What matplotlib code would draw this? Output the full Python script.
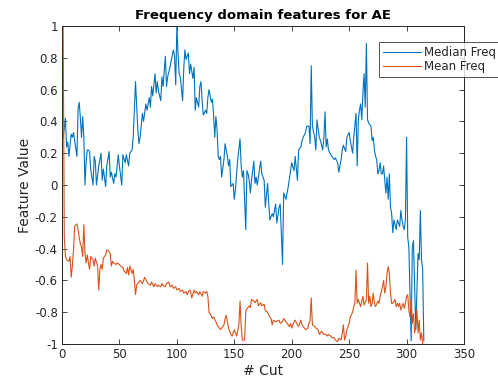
import matplotlib
matplotlib.use("Agg")
import matplotlib.pyplot as plt

title = "Frequency domain features for AE"
xlabel = "# Cut"
ylabel = "Feature Value"
series_names = ["Median Freq", "Mean Freq"]
x_ticks = [0, 50, 100, 150, 200, 250, 300, 350]
y_ticks = [-1, -0.8, -0.6, -0.4, -0.2, 0, 0.2, 0.4, 0.6, 0.8, 1]
y_tick_labels = ["-1", "-0.8", "-0.6", "-0.4", "-0.2", "0", "0.2", "0.4", "0.6", "0.8", "1"]

median_cut = [1, 3, 4, 5, 6, 8, 9, 10, 11, 13, 14, 15, 16, 17, 18, 19, 20, 21, 22, 23,
              24, 25, 27, 28, 29, 30, 32, 34, 35, 36, 38, 39, 41, 42, 43, 45, 46, 47, 49, 50,
              52, 53, 55, 56, 58, 59, 61, 62, 64, 66, 67, 68, 70, 71, 73, 74, 76, 77, 78, 79,
              81, 82, 83, 84, 86, 87, 88, 90, 91, 92, 94, 95, 97, 98, 99, 100, 101, 102, 103, 105,
              106, 107, 108, 110, 111, 112, 114, 115, 116, 117, 119, 120, 121, 122, 123, 125, 126, 127, 128, 130,
              131, 132, 133, 134, 135, 136, 137, 138, 139, 141, 142, 144, 145, 146, 147, 149, 150, 151, 152, 153,
              155, 156, 157, 158, 160, 161, 162, 163, 164, 165, 167, 168, 169, 170, 171, 173, 174, 176, 177, 179,
              180, 181, 183, 184, 186, 187, 189, 190, 192, 193, 195, 196, 197, 199, 200, 202, 203, 205, 206, 208,
              209, 210, 212, 213, 215, 216, 217, 218, 220, 221, 222, 224, 225, 227, 228, 229, 230, 231, 232, 234,
              235, 237, 238, 240, 241, 243, 244, 245, 247, 248, 250, 251, 253, 254, 256, 257, 258, 259, 260, 261,
              262, 263, 264, 265, 266, 267, 269, 270, 271, 272, 273, 274, 275, 276, 277, 278, 279, 280, 281, 282,
              283, 284, 285, 286, 287, 288, 289, 291, 292, 294, 295, 296, 297, 298, 299, 300, 301, 302, 304, 305,
              306, 307, 308, 310, 311, 312, 313, 314, 315]
median_val = [0.30, 0.42, 0.24, 0.27, 0.18, 0.32, 0.30, 0.33, 0.28, 0.18, 0.48, 0.52, 0.42, 0.30, 0.43, 0.30, 0.0, 0.15, 0.22, 0.22,
              0.21, 0.10, 0.0, 0.18, 0.15, 0.0, 0.12, 0.20, 0.03, 0.10, -0.01, 0.12, 0.21, 0.05, 0.08, 0.01, 0.07, 0.05, 0.19, 0.12,
              0.0, 0.19, 0.14, 0.19, 0.12, 0.20, 0.22, 0.30, 0.65, 0.35, 0.26, 0.30, 0.45, 0.40, 0.51, 0.47, 0.55, 0.49, 0.62, 0.56,
              0.70, 0.58, 0.65, 0.59, 0.53, 0.68, 0.62, 0.81, 0.62, 0.68, 0.74, 0.78, 0.85, 0.81, 0.63, 1.0, 0.83, 0.70, 0.68, 0.53,
              0.73, 0.85, 0.79, 0.83, 0.70, 0.76, 0.67, 0.74, 0.47, 0.55, 0.49, 0.62, 0.65, 0.53, 0.44, 0.47, 0.45, 0.55, 0.60, 0.52,
              0.54, 0.44, 0.30, 0.43, 0.35, 0.18, 0.16, 0.18, 0.05, 0.16, 0.26, 0.18, 0.12, 0.16, -0.01, 0.01, -0.09, -0.03, 0.07, 0.16,
              0.29, 0.12, 0.05, 0.09, -0.28, 0.09, 0.07, 0.03, -0.05, 0.03, 0.15, 0.01, 0.05, 0.0, 0.05, 0.15, 0.07, 0.03, -0.14, 0.01,
              -0.12, -0.22, -0.18, -0.20, -0.12, -0.24, -0.14, -0.12, -0.50, -0.05, -0.09, -0.05, -0.01, 0.09, 0.14, 0.09, 0.18, 0.03, 0.22, 0.24,
              0.28, 0.30, 0.33, 0.37, 0.37, 0.26, 0.75, 0.37, 0.30, 0.22, 0.41, 0.30, 0.28, 0.22, 0.30, 0.46, 0.24, 0.29, 0.22, 0.19,
              0.18, 0.16, 0.17, 0.14, 0.08, 0.16, 0.22, 0.25, 0.21, 0.30, 0.33, 0.28, 0.20, 0.30, 0.45, 0.12, 0.41, 0.47, 0.51, 0.41,
              0.58, 0.70, 0.49, 0.89, 0.41, 0.39, 0.37, 0.28, 0.30, 0.22, 0.18, 0.16, 0.07, 0.09, 0.14, 0.07, 0.07, 0.12, 0.03, -0.05,
              0.05, -0.09, 0.07, -0.14, -0.18, -0.30, -0.22, -0.28, -0.22, -0.26, -0.16, -0.22, -0.26, -0.28, -0.22, 0.30, -0.33, -0.39, -0.98, -0.39,
              -0.35, -0.62, -0.91, -0.43, -0.47, -0.16, -0.47, -0.53, -0.98]

mean_cut = [1, 2, 3, 4, 6, 7, 8, 9, 10, 11, 13, 14, 15, 16, 17, 18, 19, 20, 21, 22,
            23, 24, 25, 27, 28, 29, 31, 32, 33, 34, 35, 36, 38, 39, 40, 42, 43, 44, 45, 47,
            48, 50, 51, 53, 54, 56, 57, 58, 59, 61, 62, 63, 64, 65, 67, 68, 70, 71, 72, 74,
            75, 77, 78, 80, 81, 83, 84, 86, 87, 88, 90, 91, 93, 94, 96, 97, 99, 100, 102, 103,
            105, 106, 108, 109, 111, 112, 113, 115, 116, 117, 119, 120, 122, 123, 125, 126, 127, 128, 129, 131,
            132, 134, 135, 136, 138, 139, 141, 142, 143, 144, 145, 146, 147, 148, 150, 151, 152, 154, 155, 156,
            157, 158, 159, 160, 161, 163, 164, 165, 167, 168, 170, 171, 173, 174, 176, 177, 179, 180, 182, 183,
            184, 186, 189, 190, 192, 193, 195, 196, 198, 199, 200, 202, 203, 205, 206, 208, 209, 211, 212, 214,
            215, 216, 217, 218, 220, 221, 223, 224, 226, 228, 230, 231, 232, 234, 235, 237, 238, 240, 241, 243,
            244, 245, 246, 247, 248, 250, 251, 253, 254, 255, 256, 257, 258, 259, 260, 261, 262, 263, 265, 266,
            267, 268, 269, 270, 271, 272, 273, 275, 276, 277, 279, 280, 281, 282, 283, 284, 285, 286, 287, 288,
            290, 291, 292, 293, 294, 295, 297, 298, 299, 300, 301, 302, 303, 304, 305, 306, 307, 308, 309, 310,
            311, 312, 313, 314]
mean_val = [1.0, -0.33, -0.45, -0.47, -0.48, -0.45, -0.58, -0.51, -0.41, -0.26, -0.245, -0.28, -0.33, -0.37, -0.39, -0.45, -0.25, -0.43, -0.49, -0.44,
            -0.49, -0.53, -0.45, -0.47, -0.51, -0.46, -0.51, -0.66, -0.53, -0.50, -0.53, -0.46, -0.44, -0.41, -0.41, -0.43, -0.51, -0.48, -0.49, -0.50,
            -0.49, -0.50, -0.51, -0.52, -0.54, -0.556, -0.52, -0.566, -0.51, -0.556, -0.53, -0.60, -0.69, -0.63, -0.61, -0.60, -0.62, -0.60, -0.58, -0.61,
            -0.62, -0.63, -0.61, -0.64, -0.62, -0.64, -0.63, -0.64, -0.62, -0.63, -0.64, -0.62, -0.61, -0.64, -0.63, -0.65, -0.64, -0.66, -0.65, -0.67,
            -0.66, -0.68, -0.67, -0.69, -0.66, -0.67, -0.71, -0.66, -0.68, -0.67, -0.69, -0.67, -0.70, -0.67, -0.68, -0.67, -0.70, -0.80, -0.81, -0.84,
            -0.83, -0.86, -0.88, -0.89, -0.91, -0.90, -0.88, -0.84, -0.82, -0.86, -0.90, -0.92, -0.94, -0.95, -0.91, -0.93, -0.95, -0.88, -0.73, -0.89,
            -0.975, -0.975, -0.975, -0.79, -0.78, -0.76, -0.77, -0.72, -0.73, -0.74, -0.72, -0.76, -0.74, -0.76, -0.75, -0.79, -0.80, -0.82, -0.84, -0.88,
            -0.85, -0.86, -0.85, -0.87, -0.86, -0.84, -0.86, -0.87, -0.89, -0.87, -0.90, -0.86, -0.85, -0.88, -0.89, -0.85, -0.88, -0.90, -0.91, -0.90,
            -0.87, -0.85, -0.71, -0.88, -0.89, -0.90, -0.91, -0.94, -0.92, -0.94, -0.94, -0.95, -0.94, -0.95, -0.96, -0.96, -0.975, -0.985, -0.964, -0.975,
            -0.933, -0.88, -0.975, -0.954, -0.91, -0.87, -0.83, -0.80, -0.765, -0.744, -0.535, -0.744, -0.72, -0.744, -0.765, -0.73, -0.70, -0.755, -0.72, -0.49,
            -0.744, -0.70, -0.765, -0.744, -0.68, -0.744, -0.765, -0.73, -0.744, -0.70, -0.64, -0.60, -0.68, -0.64, -0.556, -0.514, -0.556, -0.68, -0.744, -0.744,
            -0.72, -0.765, -0.744, -0.765, -0.744, -0.786, -0.744, -0.776, -0.744, -0.70, -0.69, -0.786, -0.83, -0.72, -0.87, -0.81, -0.93, -0.89, -0.786, -0.93,
            -0.85, -0.975, -0.93, -1.0]

plt.rcParams['font.family'] = ['DejaVu Sans']
W, H = 498, 384
fig = plt.figure(figsize=(W / 100, H / 100), dpi=100)
ax = fig.add_axes([62 / W, 1 - 344 / H, (464 - 62) / W, (344 - 26) / H])

ax.plot(median_cut, median_val, color='#0072BD', lw=0.8, label=series_names[0])
ax.plot(mean_cut, mean_val, color='#D95319', lw=0.8, label=series_names[1])

ax.set_xlim(0, 350)
ax.set_ylim(-1, 1)
ax.set_xticks(x_ticks)
ax.set_yticks(y_ticks)
ax.set_yticklabels(y_tick_labels)
tc = '#262626'
ax.tick_params(direction='in', length=3.5, width=0.6, colors=tc, labelsize=8.5,
               top=True, right=True, pad=3)
for s in ax.spines.values():
    s.set_color(tc)
    s.set_linewidth(0.7)

ax.set_title(title, fontsize=9.5, fontweight='bold', color='black', pad=5)
ax.set_xlabel(xlabel, fontsize=10, color=tc, labelpad=2)
ax.set_ylabel(ylabel, fontsize=10, color=tc, labelpad=2)

leg = ax.legend(loc='upper left', bbox_to_anchor=(379 / W, 1 - 42 / H),
                bbox_transform=fig.transFigure, fontsize=8.5, frameon=True,
                fancybox=False, handlelength=3.2, handletextpad=0.25,
                borderpad=0.35, labelspacing=0.05, borderaxespad=0)
leg.get_frame().set_edgecolor(tc)
leg.get_frame().set_linewidth(0.7)
for t in leg.get_texts():
    t.set_color(tc)

fig.savefig('out.png', dpi=100)
